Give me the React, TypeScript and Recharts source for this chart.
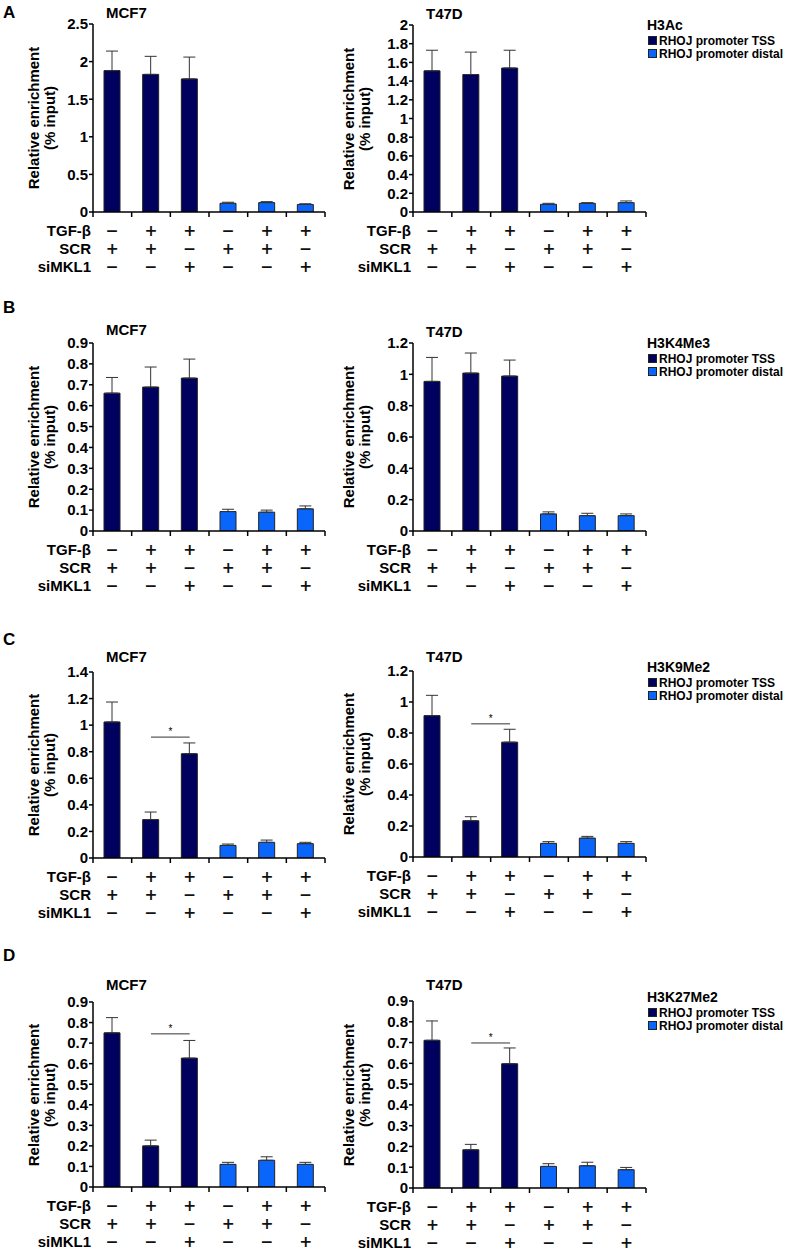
import React from 'react';
import { BarChart, Bar, XAxis, YAxis, ErrorBar, Cell, ReferenceLine, Legend } from 'recharts';

const FONT = '"Liberation Sans", Arial, Helvetica, sans-serif';
const SIGN_FONT = '"DejaVu Sans", "Liberation Sans", sans-serif';

// Shared categories / condition table
const categories = ['c1', 'c2', 'c3', 'c4', 'c5', 'c6'];
const rowLabels = ['TGF-\u03B2', 'SCR', 'siMKL1'];
const tgfRow = ['\u2212', '+', '+', '\u2212', '+', '+'];
const scrRow = ['+', '+', '\u2212', '+', '+', '\u2212'];
const simklRow = ['\u2212', '\u2212', '+', '\u2212', '\u2212', '+'];
const groups = ['tss', 'tss', 'tss', 'distal', 'distal', 'distal'];
const seriesNames = ['RHOJ promoter TSS', 'RHOJ promoter distal'];
const seriesColors = ['#00005E', '#0A66FA'];

// Panel A: H3Ac
const aMcf7Values = [1.88, 1.83, 1.77, 0.116, 0.125, 0.1];
const aMcf7Errors = [0.26, 0.24, 0.29, 0.014, 0.013, 0.01];
const aT47dValues = [1.51, 1.47, 1.54, 0.082, 0.093, 0.1];
const aT47dErrors = [0.22, 0.24, 0.19, 0.011, 0.007, 0.018];
const aMcf7Ticks = [0, 0.5, 1, 1.5, 2, 2.5];
const aT47dTicks = [0, 0.2, 0.4, 0.6, 0.8, 1, 1.2, 1.4, 1.6, 1.8, 2];

// Panel B: H3K4Me3
const bMcf7Values = [0.66, 0.689, 0.732, 0.093, 0.09, 0.106];
const bMcf7Errors = [0.075, 0.096, 0.091, 0.011, 0.01, 0.014];
const bT47dValues = [0.955, 1.008, 0.989, 0.109, 0.098, 0.098];
const bT47dErrors = [0.153, 0.128, 0.102, 0.013, 0.015, 0.011];
const bMcf7Ticks = [0, 0.1, 0.2, 0.3, 0.4, 0.5, 0.6, 0.7, 0.8, 0.9];
const bT47dTicks = [0, 0.2, 0.4, 0.6, 0.8, 1, 1.2];

// Panel C: H3K9Me2
const cMcf7Values = [1.024, 0.289, 0.785, 0.095, 0.118, 0.108];
const cMcf7Errors = [0.15, 0.057, 0.081, 0.01, 0.017, 0.01];
const cT47dValues = [0.912, 0.234, 0.741, 0.088, 0.122, 0.088];
const cT47dErrors = [0.131, 0.026, 0.083, 0.011, 0.011, 0.011];
const cMcf7Ticks = [0, 0.2, 0.4, 0.6, 0.8, 1, 1.2, 1.4];
const cT47dTicks = [0, 0.2, 0.4, 0.6, 0.8, 1, 1.2];
const cMcf7Sig = 0.91;
const cT47dSig = 0.859;

// Panel D: H3K27Me2
const dMcf7Values = [0.75, 0.2, 0.627, 0.11, 0.13, 0.11];
const dMcf7Errors = [0.074, 0.028, 0.086, 0.01, 0.017, 0.01];
const dT47dValues = [0.711, 0.184, 0.598, 0.104, 0.107, 0.088];
const dT47dErrors = [0.093, 0.026, 0.076, 0.013, 0.017, 0.011];
const dTicks = [0, 0.1, 0.2, 0.3, 0.4, 0.5, 0.6, 0.7, 0.8, 0.9];
const dMcf7Sig = 0.745;
const dT47dSig = 0.698;

const ROW_OFFSETS = [18.5, 36.5, 54.5];
const X_AXIS_H = 70;

type PanelProps = {
  left: number;
  width: number;
  axisX: number;
  plotRight: number;
  plotTop: number;
  zero: number;
  ticks: number[];
  values: number[];
  errors: number[];
  title: string;
  titleY: number;
  yLabelX: number;
  sig?: number;
  legendTitle?: string;
  legendY?: number;
};

function makeTick(bw: number) {
  return (props: any) => {
    const { x, y, payload } = props;
    const i = categories.indexOf(payload.value);
    const rows = [tgfRow, scrRow, simklRow];
    return (
      <g>
        <line x1={x - bw / 2} y1={y} x2={x - bw / 2} y2={y + 5} stroke="#000" strokeWidth={1.5} />
        {i === categories.length - 1 && (
          <line x1={x + bw / 2} y1={y} x2={x + bw / 2} y2={y + 5} stroke="#000" strokeWidth={1.5} />
        )}
        {rows.map((row, r) => (
          <text
            key={r}
            x={x}
            y={y + ROW_OFFSETS[r]}
            textAnchor="middle"
            dominantBaseline="central"
            fontFamily={SIGN_FONT}
            fontSize={15.5}
            fontWeight="bold"
            fill="#111"
          >
            {row[i]}
          </text>
        ))}
        {i === 0 &&
          rowLabels.map((lab, r) => (
            <text
              key={'l' + r}
              x={x - bw / 2 - 2}
              y={y + ROW_OFFSETS[r]}
              textAnchor="end"
              dominantBaseline="central"
              fontFamily={FONT}
              fontSize={15}
              fontWeight="bold"
              fill="#000"
            >
              {lab}
            </text>
          ))}
      </g>
    );
  };
}

function LegendBox({ title }: { title: string }) {
  return (
    <div style={{ fontFamily: FONT, color: '#000' }}>
      <div style={{ fontSize: 14, fontWeight: 'bold', lineHeight: '16px', height: 17 }}>{title}</div>
      {seriesNames.map((name, k) => (
        <div
          key={name}
          style={{ display: 'flex', alignItems: 'center', height: 13, fontSize: 12, fontWeight: 'bold', whiteSpace: 'nowrap' }}
        >
          <span
            style={{
              display: 'inline-block',
              width: 7,
              height: 7,
              background: seriesColors[k],
              border: '1px solid #222',
              marginLeft: 1,
              marginRight: 2,
            }}
          />
          {name}
        </div>
      ))}
    </div>
  );
}

function Panel(p: PanelProps) {
  const T = p.plotTop - 12;
  const H = p.zero - T + X_AXIS_H;
  const yAxisW = p.axisX - p.left;
  const marginRight = p.width - (p.plotRight - p.left);
  const bw = (p.plotRight - p.axisX) / categories.length;
  const data = categories.map((c, i) => ({
    cat: c,
    value: p.values[i],
    err: [0, p.errors[i]],
    group: groups[i],
  }));
  const yMax = p.ticks[p.ticks.length - 1];
  const midY = (p.plotTop + p.zero) / 2;
  return (
    <>
      <div
        style={{
          position: 'absolute',
          left: p.axisX + 13,
          top: p.titleY - 9,
          fontFamily: FONT,
          fontSize: 15,
          fontWeight: 'bold',
          lineHeight: '18px',
          color: '#000',
        }}
      >
        {p.title}
      </div>
      <div
        style={{
          position: 'absolute',
          left: p.yLabelX - 100,
          top: midY - 16,
          width: 200,
          height: 32,
          transform: 'rotate(-90deg)',
          transformOrigin: '50% 50%',
          textAlign: 'center',
          fontFamily: FONT,
          fontSize: 15,
          fontWeight: 'bold',
          lineHeight: '16px',
          color: '#000',
          whiteSpace: 'nowrap',
        }}
      >
        Relative enrichment
        <br />
        (% input)
      </div>
      <div style={{ position: 'absolute', left: p.left, top: T }}>
        <BarChart
          width={p.width}
          height={H}
          data={data}
          margin={{ top: 12, right: marginRight, left: 0, bottom: 0 }}
          barSize={16}
        >
          <XAxis
            dataKey="cat"
            interval={0}
            height={X_AXIS_H}
            tickSize={0}
            tickMargin={0}
            tickLine={false}
            axisLine={{ stroke: '#000', strokeWidth: 1.5 }}
            tick={makeTick(bw)}
          />
          <YAxis
            width={yAxisW}
            domain={[0, yMax]}
            ticks={p.ticks}
            interval={0}
            allowDataOverflow
            tickSize={4}
            tickMargin={1}
            axisLine={{ stroke: '#000', strokeWidth: 1.5 }}
            tickLine={{ stroke: '#000', strokeWidth: 1.5 }}
            tick={{ fill: '#000', fontSize: 15, fontWeight: 'bold', fontFamily: FONT }}
          />
          <Bar dataKey="value" stroke="#222" strokeWidth={1} isAnimationActive={false}>
            {data.map((d, i) => (
              <Cell key={i} fill={d.group === 'tss' ? seriesColors[0] : seriesColors[1]} />
            ))}
            <ErrorBar dataKey="err" direction="y" width={6} stroke="#333" strokeWidth={1} isAnimationActive={false} />
          </Bar>
          {p.sig !== undefined && (
            <ReferenceLine
              segment={[
                { x: categories[1], y: p.sig },
                { x: categories[2], y: p.sig },
              ]}
              stroke="#333"
              strokeWidth={1}
              ifOverflow="visible"
              label={{ value: '*', position: 'top', fontSize: 10, fill: '#000', fontFamily: FONT, offset: 2 }}
            />
          )}
          {p.legendTitle && (
            <Legend
              layout="vertical"
              align="center"
              verticalAlign="middle"
              wrapperStyle={{ left: 647 - p.left, top: (p.legendY as number) - 8 - T, width: 150 }}
              content={() => <LegendBox title={p.legendTitle as string} />}
            />
          )}
        </BarChart>
      </div>
    </>
  );
}

function PanelLetter({ letter, y }: { letter: string; y: number }) {
  return (
    <div
      style={{
        position: 'absolute',
        left: 3,
        top: y - 10,
        fontFamily: FONT,
        fontSize: 17,
        fontWeight: 'bold',
        lineHeight: '20px',
        color: '#000',
      }}
    >
      {letter}
    </div>
  );
}

const LEFT = { left: 0, width: 340, axisX: 93, plotRight: 325, yLabelX: 42 };
const RIGHT = { left: 340, width: 453, axisX: 413, plotRight: 646, yLabelX: 357 };

export default function App() {
  return (
    <div style={{ position: 'absolute', left: 0, top: 0, width: 793, height: 1251, background: '#fff', overflow: 'hidden' }}>
      <PanelLetter letter="A" y={13} />
      <Panel {...LEFT} plotTop={24} zero={212} ticks={aMcf7Ticks} values={aMcf7Values} errors={aMcf7Errors} title="MCF7" titleY={12.5} />
      <Panel {...RIGHT} plotTop={25} zero={212} ticks={aT47dTicks} values={aT47dValues} errors={aT47dErrors} title="T47D" titleY={14} legendTitle="H3Ac" legendY={25} />

      <PanelLetter letter="B" y={308} />
      <Panel {...LEFT} plotTop={343} zero={531} ticks={bMcf7Ticks} values={bMcf7Values} errors={bMcf7Errors} title="MCF7" titleY={330} />
      <Panel {...RIGHT} plotTop={343} zero={531} ticks={bT47dTicks} values={bT47dValues} errors={bT47dErrors} title="T47D" titleY={332} legendTitle="H3K4Me3" legendY={343} />

      <PanelLetter letter="C" y={640} />
      <Panel {...LEFT} plotTop={672} zero={858} ticks={cMcf7Ticks} values={cMcf7Values} errors={cMcf7Errors} title="MCF7" titleY={657} sig={cMcf7Sig} />
      <Panel {...RIGHT} plotTop={671} zero={857} ticks={cT47dTicks} values={cT47dValues} errors={cT47dErrors} title="T47D" titleY={657} sig={cT47dSig} legendTitle="H3K9Me2" legendY={667} />

      <PanelLetter letter="D" y={956} />
      <Panel {...LEFT} plotTop={1002} zero={1187} ticks={dTicks} values={dMcf7Values} errors={dMcf7Errors} title="MCF7" titleY={985} sig={dMcf7Sig} />
      <Panel {...RIGHT} plotTop={1001} zero={1188} ticks={dTicks} values={dT47dValues} errors={dT47dErrors} title="T47D" titleY={985} sig={dT47dSig} legendTitle="H3K27Me2" legendY={997} />
    </div>
  );
}
